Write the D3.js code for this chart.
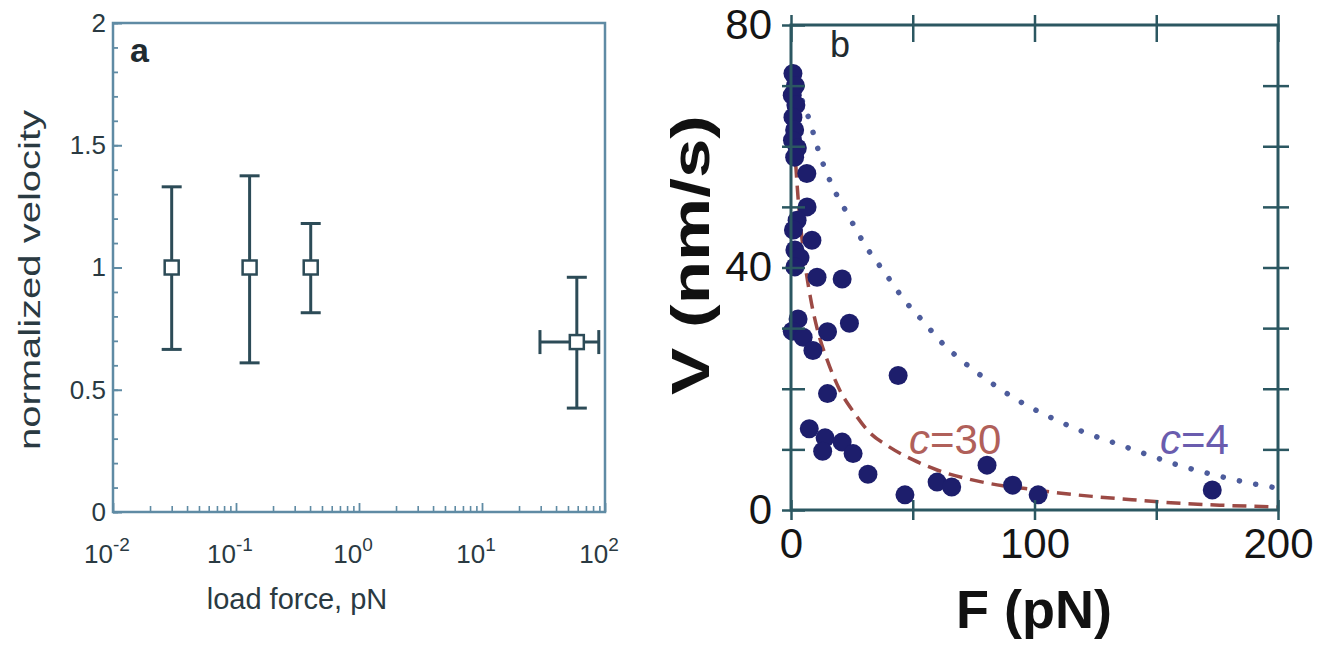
<!DOCTYPE html>
<html><head><meta charset="utf-8">
<script src="https://cdn.jsdelivr.net/npm/d3@7"></script>
<style>
body{margin:0;background:#fff;}
svg{display:block;font-family:"Liberation Sans",Arial,Helvetica,sans-serif;}
</style>
</head><body>
<svg id="chart" width="1318" height="645"></svg>
<script>
// ---------- Panel a data ----------
const forceA   = [0.030, 0.129, 0.405, 59];
const velA     = [1.0, 1.0, 1.0, 0.695];
const velHiA   = [1.33, 1.375, 1.18, 0.96];
const velLoA   = [0.665, 0.61, 0.815, 0.425];
const forceLoA = [null, null, null, 29.6];
const forceHiA = [null, null, null, 89];
const yTicksA  = [0, 0.5, 1, 1.5, 2];
const yTickLabelsA = ["0", "0.5", "1", "1.5", "2"];
const xDecadesA = [0.01, 0.1, 1, 10, 100];
const xExpA = ["-2", "-1", "0", "1", "2"];

// ---------- Panel b data ----------
const forceB = [0.8, 1.8, 0.5, 2.0, 0.8, 1.5, 0.6, 2.6, 1.5, 6.5,
                6.6, 2.5, 1.0, 8.6, 1.6, 3.7, 1.6, 10.7, 21, 2.9,
                24, 15, 0.5, 5, 9, 44, 15, 7.5, 14, 21, 13, 25.5,
                31.6, 46.8, 60, 66, 80.5, 91, 101.5, 173];
const velB   = [72, 70, 68.4, 66.8, 64.8, 62.7, 61, 59.7, 58.2, 55.5,
                50, 47.8, 46.2, 44.5, 42.9, 41.6, 40.1, 38.4, 38.1, 31.5,
                30.8, 29.4, 29.5, 28.5, 26.3, 22.2, 19.2, 13.4, 11.9, 11.2, 9.7, 9.3,
                5.9, 2.5, 4.6, 3.8, 7.4, 4.1, 2.5, 3.3];
// curve c=30 (dashed)
const fitF30 = [0.5, 1.5, 3, 5, 8, 11, 15, 20, 26, 32, 40, 50, 60, 73, 87, 97, 110, 125, 140, 156, 176, 200];
const fitV30 = [68, 60, 51, 43, 35, 29.5, 24.6, 19.8, 16, 12.9, 10.5, 8.3, 6.6, 5.1, 4.0, 3.5, 2.8, 2.2, 1.7, 1.2, 0.8, 0.5];
// curve c=4 (dotted)
const fitF4 = [2, 7.4, 11.5, 16.8, 23.4, 30.4, 38.6, 46.8, 55, 61, 71.5, 82.5, 94, 107, 120, 134, 146.6, 160, 173.7, 187.7, 200];
const fitV4 = [70, 64.5, 59, 53.6, 48.7, 43.7, 39.1, 34.5, 30.8, 28, 24.2, 20.9, 17.9, 15.2, 12.9, 10.9, 9.1, 7.3, 5.8, 4.5, 3.6];
const xTicksB = [0, 50, 100, 150, 200];
const xTickLabelsB = [0, 100, 200];
const yTicksB = [0, 10, 20, 30, 40, 50, 60, 70, 80];
const yTickLabelsB = [0, 40, 80];

const svg = d3.select("#chart");

// ================= Panel a =================
const axA = "#5f8ba4";
const barA = "#2c4b57";
const xA = d3.scaleLog().domain([0.01, 100]).range([113, 605]);
const yA = d3.scaleLinear().domain([0, 2]).range([512, 23]);
const gA = svg.append("g");

gA.append("rect").attr("x", xA(0.01)).attr("y", yA(2))
  .attr("width", xA(100) - xA(0.01)).attr("height", yA(0) - yA(2))
  .attr("fill", "none").attr("stroke", axA).attr("stroke-width", 2.5);

const minorY = d3.range(0, 21).map(i => i / 10);
gA.append("g").attr("transform", `translate(${xA(0.01)},0)`)
  .call(d3.axisRight(yA).tickValues(minorY).tickSize(5).tickFormat(""))
  .call(g => g.select(".domain").remove())
  .call(g => g.selectAll(".tick line").attr("stroke", axA).attr("stroke-width", 1.8));
gA.append("g").attr("transform", `translate(${xA(0.01)},0)`)
  .call(d3.axisRight(yA).tickValues(yTicksA).tickSize(9).tickFormat(""))
  .call(g => g.select(".domain").remove())
  .call(g => g.selectAll(".tick line").attr("stroke", axA).attr("stroke-width", 2));
gA.append("g").attr("transform", `translate(${xA(0.01)},0)`)
  .call(d3.axisLeft(yA).tickValues(yTicksA).tickSize(0).tickPadding(7)
        .tickFormat((d, i) => yTickLabelsA[i]))
  .call(g => g.select(".domain").remove())
  .call(g => g.selectAll("text").attr("font-size", 26).attr("fill", "#2a3a42"));

const minorX = [];
[0.01, 0.1, 1, 10].forEach(d => { for (let k = 2; k <= 9; k++) minorX.push(d * k); });
gA.append("g").attr("transform", `translate(0,${yA(0)})`)
  .call(d3.axisTop(xA).tickValues(minorX).tickSize(6).tickFormat(""))
  .call(g => g.select(".domain").remove())
  .call(g => g.selectAll(".tick line").attr("stroke", axA).attr("stroke-width", 1.6));
gA.append("g").attr("transform", `translate(0,${yA(0)})`)
  .call(d3.axisTop(xA).tickValues(xDecadesA).tickSize(9).tickFormat(""))
  .call(g => g.select(".domain").remove())
  .call(g => g.selectAll(".tick line").attr("stroke", axA).attr("stroke-width", 1.8));
const xl = gA.append("g").selectAll("text").data(xDecadesA).join("text")
  .attr("x", d => xA(d) - 6).attr("y", 563)
  .attr("text-anchor", "middle").attr("font-size", 26).attr("fill", "#2a3a42");
xl.append("tspan").text("10");
xl.append("tspan").attr("dy", -12).attr("font-size", 19).text((d, i) => xExpA[i]);

gA.append("text").attr("x", 297).attr("y", 609).attr("text-anchor", "middle")
  .attr("font-size", 29).attr("fill", "#2a3a42").text("load force, pN");
gA.append("text").attr("transform", "translate(40,280) rotate(-90)")
  .attr("text-anchor", "middle").attr("font-size", 29).attr("fill", "#2a3a42")
  .attr("textLength", 340).attr("lengthAdjust", "spacingAndGlyphs")
  .text("normalized velocity");
gA.append("text").attr("x", 130).attr("y", 62).attr("font-size", 34)
  .attr("font-weight", "bold").attr("fill", "#1f2b30").text("a");

const idxA = d3.range(forceA.length);
const cap = 10;
const eb = gA.append("g").attr("stroke", barA).attr("stroke-width", 3).attr("fill", "none");
idxA.forEach(i => {
  const x = xA(forceA[i]);
  eb.append("line").attr("x1", x).attr("x2", x).attr("y1", yA(velLoA[i])).attr("y2", yA(velHiA[i]));
  eb.append("line").attr("x1", x - cap).attr("x2", x + cap).attr("y1", yA(velLoA[i])).attr("y2", yA(velLoA[i]));
  eb.append("line").attr("x1", x - cap).attr("x2", x + cap).attr("y1", yA(velHiA[i])).attr("y2", yA(velHiA[i]));
  if (forceLoA[i] !== null) {
    const y = yA(velA[i]);
    eb.append("line").attr("x1", xA(forceLoA[i])).attr("x2", xA(forceHiA[i])).attr("y1", y).attr("y2", y);
    eb.append("line").attr("x1", xA(forceLoA[i])).attr("x2", xA(forceLoA[i])).attr("y1", y - 12).attr("y2", y + 12);
    eb.append("line").attr("x1", xA(forceHiA[i])).attr("x2", xA(forceHiA[i])).attr("y1", y - 12).attr("y2", y + 12);
  }
});
gA.append("g").selectAll("rect").data(idxA).join("rect")
  .attr("x", i => xA(forceA[i]) - 7).attr("y", i => yA(velA[i]) - 7)
  .attr("width", 14).attr("height", 14)
  .attr("fill", "#fff").attr("stroke", barA).attr("stroke-width", 2.5);

// ================= Panel b =================
const axB = "#2b5761";
const xB = d3.scaleLinear().domain([0, 200]).range([791, 1278]);
const yB = d3.scaleLinear().domain([0, 80]).range([510, 25]);
const gB = svg.append("g");

const lineB = d3.line().x(d => xB(d[0])).y(d => yB(d[1])).curve(d3.curveMonotoneX);
gB.append("path").datum(fitF4.map((f, i) => [f, fitV4[i]]))
  .attr("d", lineB).attr("fill", "none").attr("stroke", "#4d5c9c")
  .attr("stroke-width", 5.5).attr("stroke-linecap", "round").attr("stroke-dasharray", "0.1 16.5");
gB.append("path").datum(fitF30.map((f, i) => [f, fitV30[i]]))
  .attr("d", lineB).attr("fill", "none").attr("stroke", "#9c4a45")
  .attr("stroke-width", 3.5).attr("stroke-dasharray", "14 8");

gB.append("g").selectAll("circle").data(d3.range(forceB.length)).join("circle")
  .attr("cx", i => xB(forceB[i])).attr("cy", i => yB(velB[i])).attr("r", 9.5)
  .attr("fill", "#1d1e6c");

gB.append("rect").attr("x", xB(0)).attr("y", yB(80))
  .attr("width", xB(200) - xB(0)).attr("height", yB(0) - yB(80))
  .attr("fill", "none").attr("stroke", axB).attr("stroke-width", 3);

function styleCross(g, a, b, horiz) {
  g.select(".domain").remove();
  g.selectAll(".tick line").attr("stroke", axB).attr("stroke-width", 2.5)
    .attr(horiz ? "x1" : "y1", a).attr(horiz ? "x2" : "y2", b);
}
gB.append("g").attr("transform", `translate(0,${yB(0)})`)
  .call(d3.axisBottom(xB).tickValues(xTicksB).tickFormat(""))
  .call(g => styleCross(g, -10, 10, false));
gB.append("g").attr("transform", `translate(0,${yB(80)})`)
  .call(d3.axisTop(xB).tickValues(xTicksB).tickFormat(""))
  .call(g => styleCross(g, -10, 17, false));
gB.append("g").attr("transform", `translate(${xB(0)},0)`)
  .call(d3.axisLeft(yB).tickValues(yTicksB).tickFormat(""))
  .call(g => styleCross(g, -9, 14, true));
gB.append("g").attr("transform", `translate(${xB(200)},0)`)
  .call(d3.axisRight(yB).tickValues(yTicksB.slice(1, -1)).tickFormat(""))
  .call(g => styleCross(g, -15, 11, true));

gB.append("g").attr("transform", `translate(${xB(0)},0)`)
  .call(d3.axisLeft(yB).tickValues(yTickLabelsB).tickSize(0).tickPadding(19))
  .call(g => g.select(".domain").remove())
  .call(g => g.selectAll("text").attr("font-size", 42).attr("fill", "#151515"));
gB.append("g").attr("transform", `translate(0,${yB(0)})`)
  .call(d3.axisBottom(xB).tickValues(xTickLabelsB).tickSize(0).tickPadding(18))
  .call(g => g.select(".domain").remove())
  .call(g => g.selectAll("text").attr("font-size", 42).attr("fill", "#151515"));

gB.append("text").attr("x", 1034).attr("y", 628).attr("text-anchor", "middle")
  .attr("font-size", 54).attr("font-weight", "bold").attr("fill", "#111").text("F (pN)");
gB.append("text").attr("transform", "translate(709,255) rotate(-90)")
  .attr("text-anchor", "middle").attr("font-size", 54).attr("font-weight", "bold").attr("fill", "#111")
  .attr("textLength", 280).attr("lengthAdjust", "spacingAndGlyphs").text("V (nm/s)");
gB.append("text").attr("x", 830).attr("y", 57).attr("font-size", 36).attr("fill", "#1f2b30").text("b");

const t30 = gB.append("text").attr("x", 909).attr("y", 454).attr("font-size", 42).attr("fill", "#b0605a");
t30.append("tspan").attr("font-style", "italic").text("c");
t30.append("tspan").text("=30");
const t4 = gB.append("text").attr("x", 1160).attr("y", 454).attr("font-size", 42).attr("fill", "#6a5cae");
t4.append("tspan").attr("font-style", "italic").text("c");
t4.append("tspan").text("=4");
</script>
</body></html>
